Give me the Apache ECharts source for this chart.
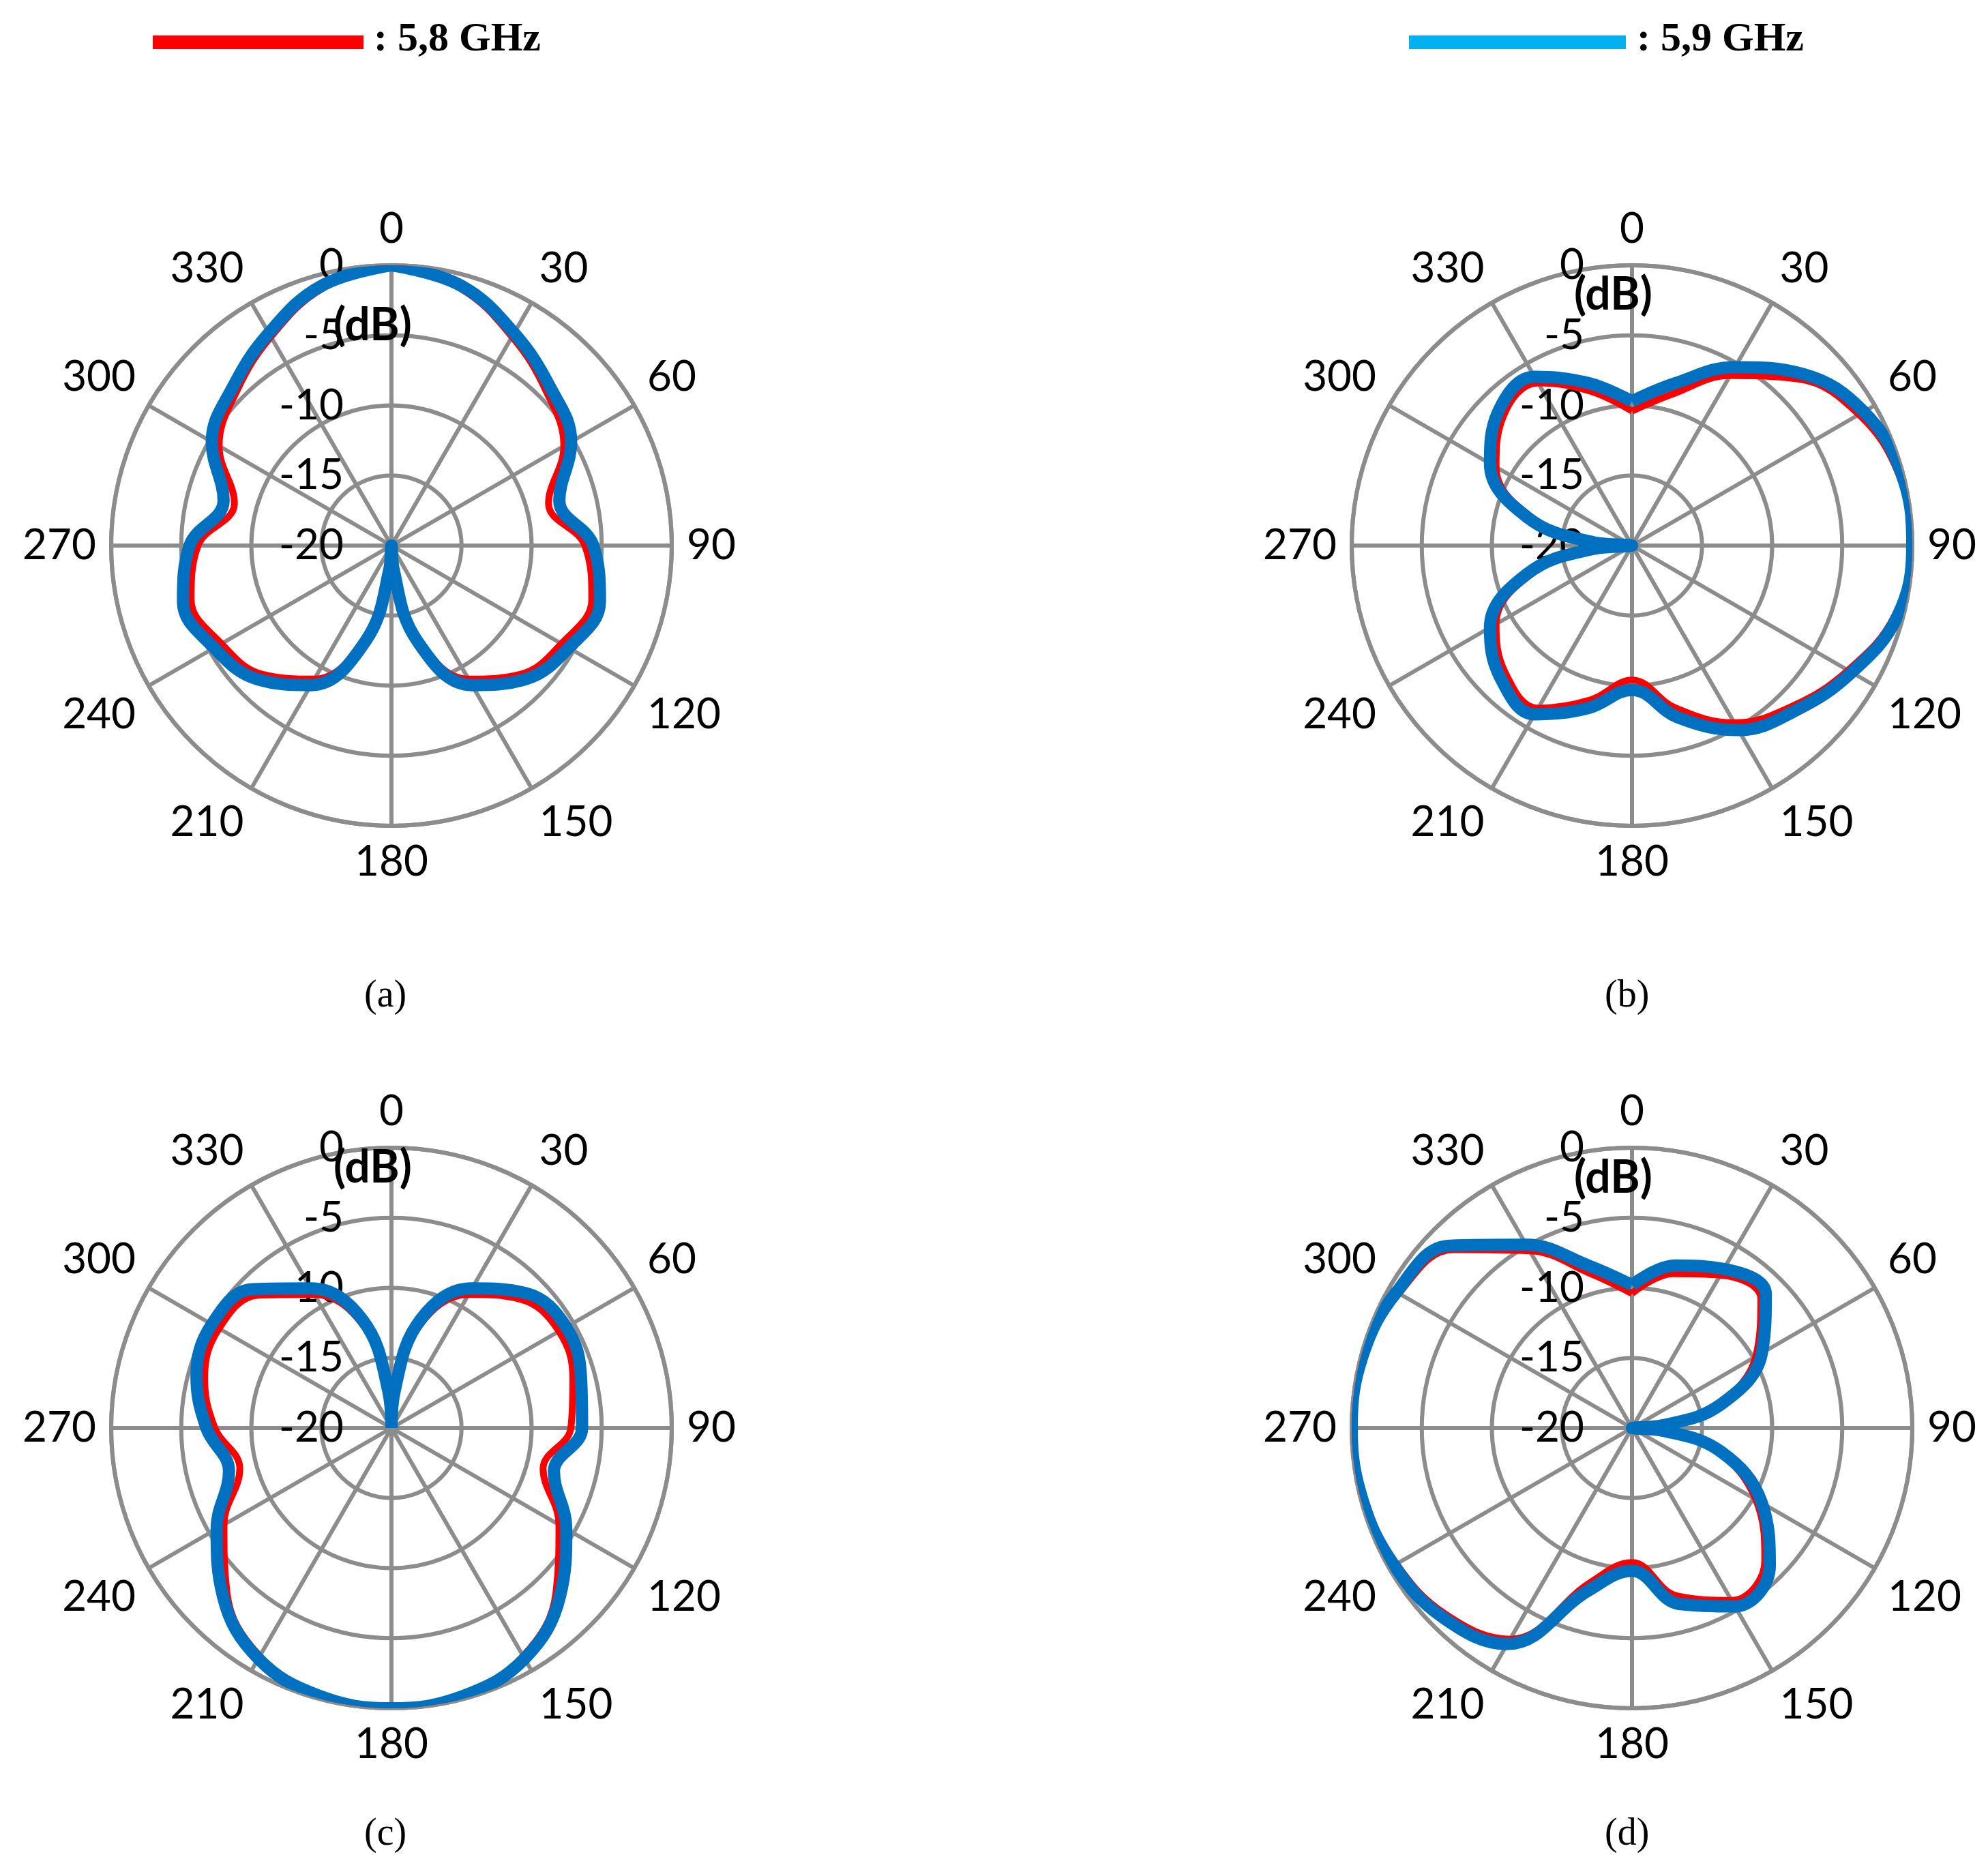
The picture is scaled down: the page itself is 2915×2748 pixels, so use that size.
<!DOCTYPE html>
<html>
<head>
<meta charset="utf-8">
<script src="https://cdn.jsdelivr.net/npm/echarts@6/dist/echarts.min.js"></script>
<style>
  html, body { margin: 0; padding: 0; background: #fff; }
  #chart { width: 2915px; height: 2748px; }
</style>
</head>
<body>
<div id="chart"></div>
<script>
// angles every 15 degrees, 0..360
const angles = [0,15,30,45,60,75,90,105,120,135,150,165,175,180,185,195,210,225,240,255,270,285,300,315,330,345,360]
const anglesB = [0,15,30,45,60,75,90,105,120,135,150,165,180,195,210,225,240,255,265,270,275,285,300,315,330,345,360]
const anglesD = [0,15,30,45,60,75,85,90,95,105,120,135,150,165,180,195,210,225,240,255,270,285,300,315,330,345,360]
const anglesC = [0,5,15,30,45,60,75,90,105,120,135,150,165,180,195,210,225,240,255,270,285,300,315,330,345,355,360]

// (a)
const a58 = [0,-1.0,-2.8,-4.4,-5.8,-8.4,-6.2,-5.2,-6.0,-7.0,-9.0,-13.5,-18.5,-20,-18.5,-13.5,-9.0,-7.0,-6.0,-5.2,-6.2,-8.4,-5.8,-4.4,-2.8,-1.0,0]
const a59 = [0,-0.8,-2.5,-4.0,-5.2,-7.6,-5.6,-4.6,-5.4,-6.5,-8.5,-13.0,-18.3,-20,-18.3,-13.0,-8.5,-6.5,-5.4,-4.6,-5.6,-7.6,-5.2,-4.0,-2.5,-0.8,0]
// (b)
const b58 = [-10.4,-8.8,-6.0,-3.2,-1.3,-0.3,0,-0.6,-2.2,-3.8,-5.4,-8.0,-10.4,-8.6,-6.6,-7.2,-8.8,-12.8,-17.5,-20,-17.5,-12.8,-8.8,-7.0,-6.6,-8.6,-10.4]
const b59 = [-9.7,-8.0,-5.3,-2.7,-0.9,-0.1,0,-0.4,-1.9,-3.4,-4.8,-7.3,-9.7,-8.0,-6.1,-6.7,-8.3,-12.3,-17.2,-20,-17.2,-12.3,-8.3,-6.5,-6.1,-8.0,-9.7]
// (c)
const c58 = [-20,-17.5,-12.5,-9.0,-7.0,-6.2,-6.6,-7.2,-8.8,-6.2,-3.4,-1.2,-0.3,0,-0.3,-1.2,-3.4,-6.2,-8.8,-7.4,-6.2,-5.8,-6.6,-9.0,-12.5,-17.5,-20]
const c59 = [-20,-17.3,-12.0,-8.5,-6.4,-5.6,-6.0,-6.4,-8.0,-5.6,-3.0,-1.0,-0.2,0,-0.2,-1.0,-3.0,-5.6,-8.0,-6.8,-5.6,-5.2,-6.0,-8.5,-12.0,-17.3,-20]
// (d)
const d58 = [-10.4,-8.6,-7.4,-7.0,-9.8,-13.8,-18.0,-20,-18.0,-13.8,-9.8,-6.6,-5.8,-7.6,-10.4,-8.6,-2.6,-1.2,-0.6,-0.2,0,-0.2,-0.8,-2.0,-5.4,-8.6,-10.4]
const d59 = [-9.8,-8.0,-6.9,-6.5,-9.3,-13.4,-17.8,-20,-17.8,-13.4,-9.3,-6.1,-5.3,-7.0,-9.8,-8.0,-2.2,-0.9,-0.4,-0.1,0,-0.1,-0.6,-1.6,-4.9,-8.0,-9.8]

const panels = [
  {ang: angles, r58: a58, r59: a59, cx: 574, cy: 800, tag: '(a)', ty: 1473, dbY: 490},
  {ang: anglesB, r58: b58, r59: b59, cx: 2393, cy: 800, tag: '(b)', ty: 1473, dbY: 445},
  {ang: anglesC, r58: c58, r59: c59, cx: 574, cy: 2094, tag: '(c)', ty: 2702, dbY: 1725},
  {ang: anglesD, r58: d58, r59: d59, cx: 2393, cy: 2094, tag: '(d)', ty: 2702, dbY: 1740}
]

const gray = '#8c8c8c'
const lbl = {fontFamily: 'Lato', fontSize: 62, color: '#000'}
let polar = [], angleAxis = [], radiusAxis = [], series = [], graphic = []

panels.forEach(function (p, i) {
  polar.push({center: [p.cx, p.cy], radius: 411})
  angleAxis.push({
    polarIndex: i, type: 'value', min: 0, max: 360, interval: 30,
    startAngle: 90, clockwise: true,
    axisLine: {lineStyle: {color: gray, width: 6}},
    axisTick: {show: false},
    axisLabel: Object.assign({margin: 22, formatter: v => v == 360 ? '' : v}, lbl),
    splitLine: {lineStyle: {color: gray, width: 6}}
  })
  radiusAxis.push({
    polarIndex: i, type: 'value', min: -20, max: 0, interval: 5,
    axisLine: {show: false}, axisTick: {show: false},
    axisLabel: Object.assign({margin: 70, verticalAlign: 'middle'}, lbl),
    splitLine: {lineStyle: {color: gray, width: 6}}
  })
  series.push({
    type: 'line', coordinateSystem: 'polar', polarIndex: i, smooth: 0.4,
    showSymbol: false, clip: false,
    lineStyle: {color: '#ff0000', width: 10},
    data: p.ang.map((a, k) => [p.r58[k], a])
  })
  series.push({
    type: 'line', coordinateSystem: 'polar', polarIndex: i, smooth: 0.4,
    showSymbol: false, clip: false,
    lineStyle: {color: '#0070c0', width: 18},
    data: p.ang.map((a, k) => [p.r59[k], a])
  })
  graphic.push({type: 'text', left: p.cx - 85, top: p.dbY - 45, z: 10,
    style: {text: '(dB)', font: 'bold 66px Lato', fill: '#000'}})
  graphic.push({type: 'text', left: p.cx - 40, top: p.ty - 40,
    style: {text: p.tag, font: '56px "Liberation Serif"', fill: '#000'}})
})

graphic.push({type: 'rect', shape: {x: 224, y: 52, width: 309, height: 20}, style: {fill: '#ff0000'}})
graphic.push({type: 'text', left: 548, top: 28, style: {text: ': 5,8 GHz', font: 'bold 60px "Liberation Serif"', fill: '#000'}})
graphic.push({type: 'rect', shape: {x: 2066, y: 52, width: 318, height: 20}, style: {fill: '#00b0f0'}})
graphic.push({type: 'text', left: 2400, top: 28, style: {text: ': 5,9 GHz', font: 'bold 60px "Liberation Serif"', fill: '#000'}})

const chart = echarts.init(document.getElementById('chart'))
chart.setOption({
  animation: false,
  backgroundColor: '#fff',
  polar: polar, angleAxis: angleAxis, radiusAxis: radiusAxis,
  series: series, graphic: graphic
})
</script>
</body>
</html>
